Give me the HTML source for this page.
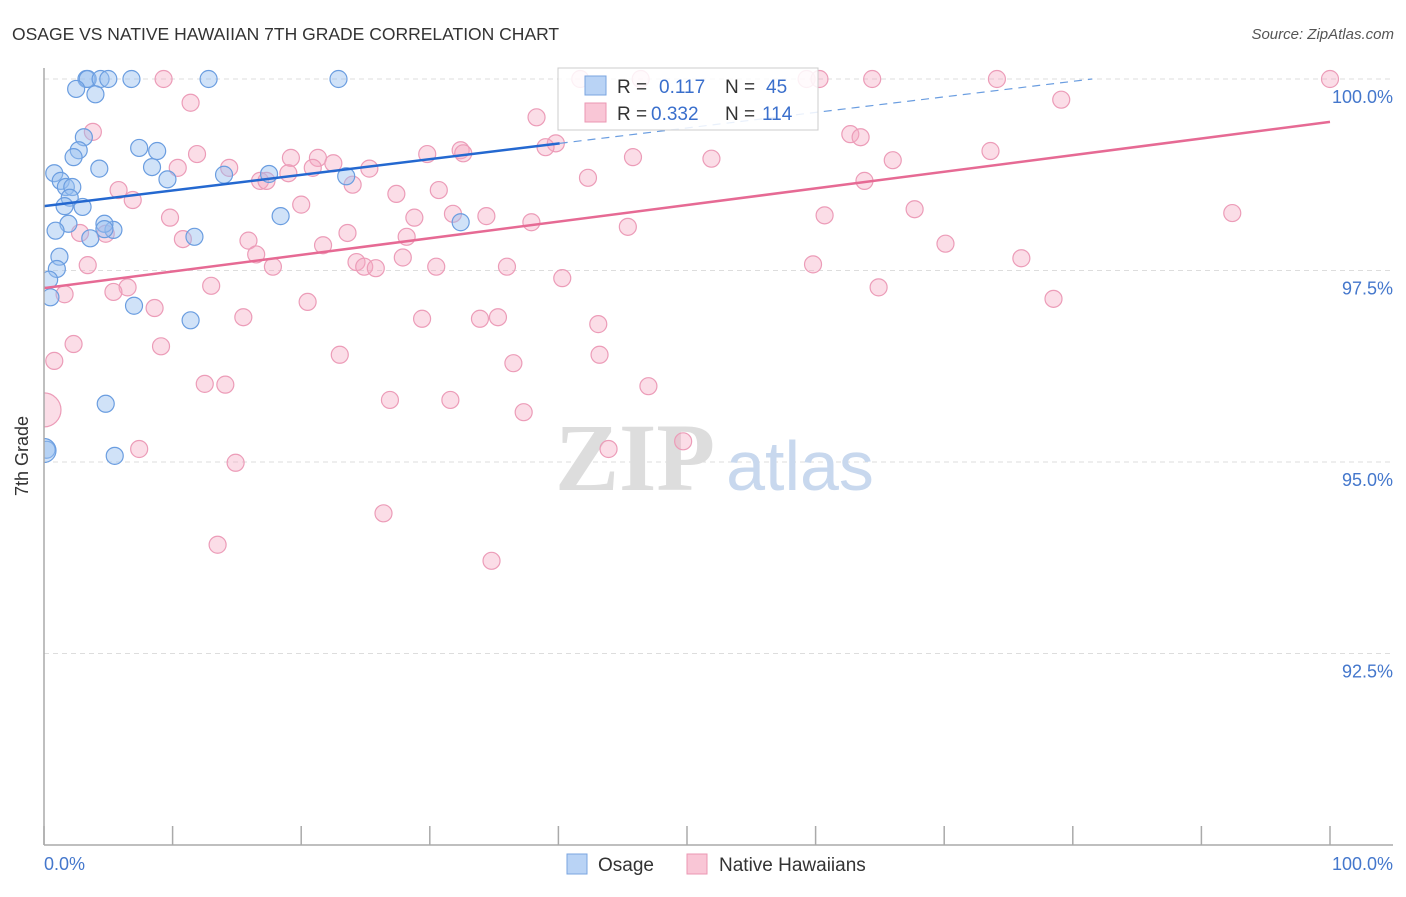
<!DOCTYPE html>
<html><head><meta charset="utf-8"><style>
body{margin:0;background:#fff;font-family:"Liberation Sans",sans-serif}
svg text{font-family:"Liberation Sans",sans-serif}
</style></head><body>
<svg id="chart" width="1406" height="892" xmlns="http://www.w3.org/2000/svg">
<defs><clipPath id="plotclip"><rect x="44" y="50" width="1360" height="795"/></clipPath></defs>
<text x="12" y="40" font-size="17.5" fill="#333">OSAGE VS NATIVE HAWAIIAN 7TH GRADE CORRELATION CHART</text>
<text x="1394" y="39" font-size="15" fill="#555" text-anchor="end" font-style="italic">Source: ZipAtlas.com</text>
<g id="grid"></g>
<g>
<text x="635" y="490" font-size="96" fill="#ddd" text-anchor="middle" font-family="Liberation Serif" font-weight="bold" style="font-family:'Liberation Serif',serif">ZIP</text>
<text x="800" y="490" font-size="70" fill="#c8d8ee" text-anchor="middle">atlas</text>
</g>
<g id="pts" clip-path="url(#plotclip)"></g>
<g id="lines"></g>
<line x1="44" y1="68" x2="44" y2="845" stroke="#aaa" stroke-width="1.5"/>
<line x1="44" y1="845" x2="1393" y2="845" stroke="#aaa" stroke-width="1.5"/>
<g id="xticks"></g>
<text x="28" y="456" font-size="18" fill="#333" text-anchor="middle" transform="rotate(-90 28 456)">7th Grade</text>
<text x="44" y="870" font-size="18" fill="#4477cc">0.0%</text>
<text x="1393" y="870" font-size="18" fill="#4477cc" text-anchor="end">100.0%</text>
<g>
<rect x="558" y="68" width="260" height="62" fill="rgba(255,255,255,0.85)" stroke="#ccc" stroke-width="1"/>
<rect x="585" y="76" width="21" height="19" fill="#b9d3f5" stroke="#7aa5e0"/>
<rect x="585" y="103" width="21" height="19" fill="#f9c6d6" stroke="#eb97b3"/>
<text x="617" y="93" font-size="19" fill="#333">R = </text><text x="659" y="93" font-size="19" fill="#3a6fcc">0.117</text>
<text x="725" y="93" font-size="19" fill="#333">N = </text><text x="766" y="93" font-size="19" fill="#3a6fcc">45</text>
<text x="617" y="120" font-size="19" fill="#333">R = </text><text x="651" y="120" font-size="19" fill="#3a6fcc">0.332</text>
<text x="725" y="120" font-size="19" fill="#333">N = </text><text x="762" y="120" font-size="19" fill="#3a6fcc">114</text>
</g>
<g>
<rect x="567" y="854" width="20" height="20" fill="#b9d3f5" stroke="#7aa5e0"/>
<text x="598" y="871" font-size="19" fill="#333">Osage</text>
<rect x="687" y="854" width="20" height="20" fill="#f9c6d6" stroke="#eb97b3"/>
<text x="719" y="871" font-size="19" fill="#333">Native Hawaiians</text>
</g>
</svg>
<script>
const yTicks=[100,97.5,95,92.5];
const yTickLabels=["100.0%","97.5%","95.0%","92.5%"];
const xTicks=[0,10,20,30,40,50,60,70,80,90,100];
const blueX=[3.3,3.4,4.4,5.0,6.8,12.8,22.9,2.5,4.0,3.1,2.7,2.3,7.4,8.8,4.3,8.4,0.8,1.3,1.7,2.2,9.6,14.0,17.5,23.5,2.0,1.6,3.0,1.9,0.9,3.6,5.4,4.7,11.7,18.4,32.4,1.2,1.0,0.4,0.5,7.0,11.4,4.8,0.2,5.5,4.7];
const blueY=[100,100,100,100,100,100,100,99.87,99.80,99.24,99.07,98.98,99.10,99.06,98.83,98.85,98.77,98.67,98.59,98.59,98.69,98.75,98.76,98.73,98.45,98.34,98.33,98.11,98.02,97.92,98.03,98.11,97.94,98.21,98.13,97.68,97.52,97.38,97.15,97.04,96.85,95.76,95.16,95.08,98.04];
const pinkX=[9.3,41.7,46.4,59.3,60.3,64.4,74.1,100,11.4,79.1,3.8,38.3,39.8,39.0,32.4,32.6,62.7,63.5,45.8,51.9,66.0,73.6,11.9,19.2,21.3,29.8,10.4,14.4,22.5,20.9,25.3,19.0,16.8,17.3,24.0,30.7,27.4,42.3,63.8,5.8,6.9,20.0,9.8,28.8,34.4,37.9,31.8,60.7,67.7,92.4,45.4,23.6,2.8,4.8,10.8,15.9,21.7,28.2,70.1,16.5,27.9,3.4,17.8,24.3,24.9,25.8,30.5,36.0,59.8,76.0,40.3,6.5,13.0,1.6,5.4,64.9,78.5,20.5,8.6,15.5,29.4,33.9,35.3,43.1,2.3,9.1,23.0,43.2,0.8,36.5,12.5,14.1,47.0,26.9,31.6,37.3,7.4,49.7,43.9,14.9,26.4,13.5,34.8];
const pinkY=[100,100,100,100,100,100,100,100,99.69,99.73,99.31,99.50,99.16,99.11,99.07,99.03,99.28,99.24,98.98,98.96,98.94,99.06,99.02,98.97,98.97,99.02,98.84,98.84,98.90,98.84,98.83,98.77,98.67,98.67,98.62,98.55,98.50,98.71,98.67,98.55,98.42,98.36,98.19,98.19,98.21,98.13,98.24,98.22,98.30,98.25,98.07,97.99,97.99,97.98,97.91,97.89,97.83,97.94,97.85,97.71,97.67,97.57,97.55,97.61,97.55,97.53,97.55,97.55,97.58,97.66,97.40,97.28,97.30,97.19,97.22,97.28,97.13,97.09,97.01,96.89,96.87,96.87,96.89,96.80,96.54,96.51,96.40,96.40,96.32,96.29,96.02,96.01,95.99,95.81,95.81,95.65,95.17,95.27,95.17,94.99,94.33,93.92,93.71];
const blueBig=[[0,95.15]];
const pinkBig=[[0,95.68]];
const blueTrend=[[0,98.34],[40.1,99.16],[81.5,100]];
const pinkTrend=[[0,97.27],[100,99.44]];
const NS="http://www.w3.org/2000/svg";
const sx=v=>44+12.86*v, sy=v=>79+76.6*(100-v);
function mk(t,a,p){const e=document.createElementNS(NS,t);for(const k in a)e.setAttribute(k,a[k]);p.appendChild(e);return e;}
const grid=document.getElementById('grid');
yTicks.forEach((t,i)=>{
 const l=mk('line',{x1:44,x2:1393,y1:sy(t),y2:sy(t),stroke:'#ddd','stroke-dasharray':'5,4'},grid);
 
 
 const tx=mk('text',{x:1393,y:sy(t)+24,'font-size':18,fill:'#4477cc','text-anchor':'end'},grid);
 tx.textContent=yTickLabels[i];
 
 
});
const xt=document.getElementById('xticks');
xTicks.forEach(t=>{
 const l=mk('line',{x1:sx(t),x2:sx(t),y1:826,y2:845,stroke:'#aaa','stroke-width':1.5},xt);
 
 
});
const pts=document.getElementById('pts');
function dot(x,y,r,blue){
 const c=mk('circle',{cx:sx(x),cy:sy(y),r:r,fill:blue?'rgba(150,190,240,0.45)':'rgba(245,170,195,0.4)',stroke:blue?'#6a9de0':'#ec9cb8','stroke-width':1.2},pts);
 
 
}
pinkX.forEach((x,i)=>dot(x,pinkY[i],8.5,false));
blueX.forEach((x,i)=>dot(x,blueY[i],8.5,true));
pinkBig.forEach(p=>dot(p[0],p[1],17,false));
blueBig.forEach(p=>dot(p[0],p[1],12,true));
const ln=document.getElementById('lines');
const b1=mk('line',{x1:sx(blueTrend[0][0]),y1:sy(blueTrend[0][1]),x2:sx(blueTrend[1][0]),y2:sy(blueTrend[1][1]),stroke:'#2468d0','stroke-width':2.5},ln);


const b2=mk('line',{x1:sx(blueTrend[1][0]),y1:sy(blueTrend[1][1]),x2:sx(blueTrend[2][0]),y2:sy(blueTrend[2][1]),stroke:'#6a9de0','stroke-width':1.2,'stroke-dasharray':'8,6'},ln);


const p1=mk('line',{x1:sx(pinkTrend[0][0]),y1:sy(pinkTrend[0][1]),x2:sx(pinkTrend[1][0]),y2:sy(pinkTrend[1][1]),stroke:'#e66a94','stroke-width':2.5},ln);


</script>
</body></html>
